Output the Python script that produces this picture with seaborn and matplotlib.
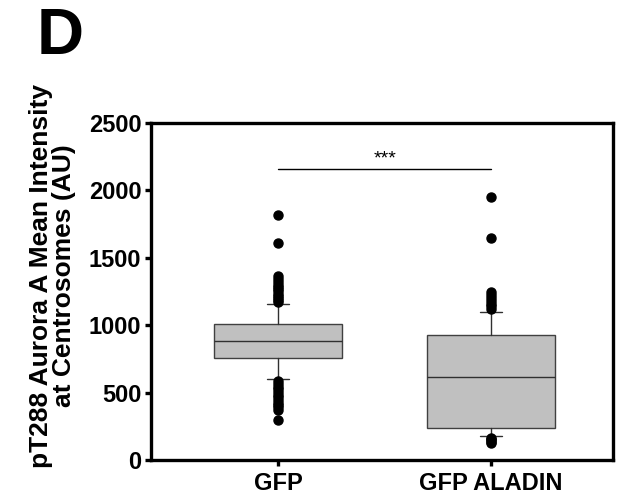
import matplotlib
matplotlib.use("Agg")
import matplotlib.pyplot as plt
import seaborn as sns

# values
groups = ["GFP", "GFP ALADIN"]
q1 = [758, 238]
median = [884, 617]
q3 = [1010, 929]
whisker_low = [602, 178]
whisker_high = [1159, 1100]
fliers_gfp = [1175, 1190, 1205, 1220, 1235, 1250, 1265, 1280, 1300, 1320, 1345, 1367,
              1612, 1820,
              585, 565, 545, 525, 505, 485, 465, 445, 425, 405, 390, 372, 297]
fliers_aladin = [1120, 1140, 1160, 1180, 1200, 1225, 1248, 1650, 1954,
                 165, 155, 145, 135, 126]
fliers = [fliers_gfp, fliers_aladin]
y_ticks = [0, 500, 1000, 1500, 2000, 2500]

sns.set_style("ticks")
plt.rcParams["font.family"] = ["Liberation Sans", "DejaVu Sans"]
plt.rcParams["text.color"] = "black"
plt.rcParams["axes.labelcolor"] = "black"
plt.rcParams["xtick.color"] = "black"
plt.rcParams["ytick.color"] = "black"

fig = plt.figure(figsize=(6.27, 4.96), dpi=100)
ax = fig.add_axes([0.241, 0.0726, 0.737, 0.6794])

stats = []
for i, g in enumerate(groups):
    stats.append(dict(label=g, q1=q1[i], med=median[i], q3=q3[i],
                      whislo=whisker_low[i], whishi=whisker_high[i], fliers=fliers[i]))

ax.bxp(stats, positions=[0, 1], widths=0.6, capwidths=0.1, patch_artist=True,
       boxprops=dict(facecolor="#c0c0c0", edgecolor="#404040", linewidth=1.0),
       medianprops=dict(color="#303030", linewidth=1.0),
       whiskerprops=dict(color="#303030", linewidth=1.0),
       capprops=dict(color="#303030", linewidth=1.0),
       flierprops=dict(marker="o", markerfacecolor="black", markeredgecolor="black",
                       markersize=6.5, linestyle="none"))

# significance bar
ax.plot([0, 1], [2160, 2160], color="black", linewidth=1.0)
ax.text(0.5, 2170, "***", ha="center", va="bottom", fontsize=14)

ax.set_xlim(-0.596, 1.573)
ax.set_ylim(0, 2500)
ax.set_yticks(y_ticks)
ax.set_xticks([0, 1])
ax.set_xticklabels(groups)
for s in ax.spines.values():
    s.set_visible(True)
    s.set_linewidth(2.4)
    s.set_color("black")
ax.tick_params(axis="both", direction="out", length=4, width=2.4, labelsize=17, pad=3)
for lab in ax.get_xticklabels() + ax.get_yticklabels():
    lab.set_fontweight("bold")
ax.tick_params(axis="x", pad=5)

ax.set_ylabel("pT288 Aurora A Mean Intensity\nat Centrosomes (AU)", fontsize=19,
              fontweight="bold", linespacing=0.95)
ax.yaxis.set_label_coords(-0.163, 0.546)

fig.text(0.058, 0.985, "D", fontsize=47, fontweight="bold", ha="left", va="top")

fig.savefig("out.png", dpi=100)
